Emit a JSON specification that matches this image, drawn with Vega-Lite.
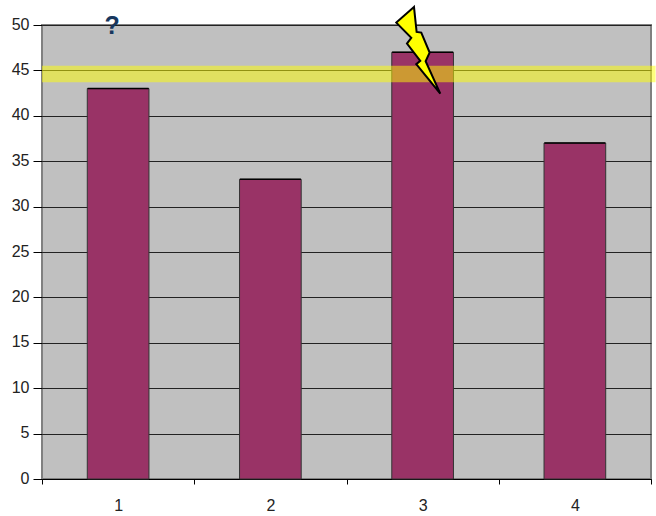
{
  "$schema": "https://vega.github.io/schema/vega-lite/v6.json",
  "width": 609,
  "height": 454,
  "autosize": "none",
  "padding": {"left": 42, "top": 25, "right": 5, "bottom": 37},
  "background": "#ffffff",
  "view": {"fill": "#c0c0c0", "stroke": "#808080", "strokeWidth": 2},
  "config": {"font": "Liberation Sans"},
  "datasets": {
    "bars": [
      {"category": "1", "value": 43},
      {"category": "2", "value": 33},
      {"category": "3", "value": 47},
      {"category": "4", "value": 37}
    ],
    "threshold": [{"start": 0, "end": 4.03, "low": 43.7, "high": 45.5}],
    "questionMark": [{"category": "1", "value": 50, "note": "?"}],
    "bolt": [{"category": "3", "value": 47}]
  },
  "layer": [
    {
      "data": {"name": "bars"},
      "layer": [
        {
          "mark": {"type": "bar", "fill": "#993366", "stroke": "#333333", "strokeWidth": 1, "width": {"band": 0.405}},
          "encoding": {
            "x": {
              "field": "category",
              "type": "ordinal",
              "scale": {"domain": ["1", "2", "3", "4"], "paddingInner": 0, "paddingOuter": 0},
              "axis": {
                "title": null,
                "labelAngle": 0,
                "labelFontSize": 16,
                "labelColor": "#222222",
                "labelPadding": 13,
                "tickBand": "extent",
                "tickColor": "#000000",
                "tickSize": 5,
                "domainColor": "#000000",
                "domainWidth": 1,
                "grid": false
              }
            },
            "y": {
              "field": "value",
              "type": "quantitative",
              "scale": {"domain": [0, 50], "nice": false},
              "axis": {
                "title": null,
                "values": [0, 5, 10, 15, 20, 25, 30, 35, 40, 45, 50],
                "labelFontSize": 16,
                "labelColor": "#222222",
                "labelPadding": 4,
                "labelOffset": -1,
                "tickColor": "#000000",
                "tickSize": 9,
                "domain": false,
                "grid": true,
                "gridColor": "#222222",
                "gridWidth": 1,
                "gridOpacity": 1
              }
            }
          }
        },
        {
          "mark": {"type": "tick", "orient": "horizontal", "color": "#000000", "size": 61, "thickness": 1.5, "opacity": 1},
          "encoding": {
            "x": {"field": "category", "type": "ordinal"},
            "y": {"field": "value", "type": "quantitative"}
          }
        }
      ]
    },
    {
      "data": {"name": "threshold"},
      "mark": {"type": "rect", "fill": "#ffff00", "opacity": 0.5},
      "encoding": {
        "x": {"field": "start", "type": "quantitative", "scale": {"domain": [0, 4], "nice": false}, "axis": null},
        "x2": {"field": "end"},
        "y": {"field": "low", "type": "quantitative", "scale": {"domain": [0, 50], "nice": false}},
        "y2": {"field": "high"}
      }
    },
    {
      "data": {"name": "questionMark"},
      "mark": {"type": "text", "fontSize": 25, "fontWeight": "bold", "color": "#17375e", "dx": -6, "dy": 1, "baseline": "middle"},
      "encoding": {
        "x": {
          "field": "category",
          "type": "ordinal",
          "scale": {"domain": ["1", "2", "3", "4"], "paddingInner": 0, "paddingOuter": 0},
          "axis": null
        },
        "y": {"field": "value", "type": "quantitative", "scale": {"domain": [0, 50], "nice": false}},
        "text": {"field": "note"}
      }
    },
    {
      "data": {"name": "bolt"},
      "mark": {
        "type": "point",
        "filled": true,
        "fill": "#ffff00",
        "fillOpacity": 1,
        "stroke": "#000000",
        "strokeWidth": 2,
        "strokeOpacity": 1,
        "opacity": 1,
        "size": 10000,
        "shape": "M-0.173,-0.907L-0.527,-0.593L-0.227,-0.287L-0.313,-0.173L-0.047,0.173L-0.127,0.24L0.353,0.827L0.06,0.18L0.14,0.007L-0.027,-0.393L-0.12,-0.407Z"
      },
      "encoding": {
        "x": {
          "field": "category",
          "type": "ordinal",
          "scale": {"domain": ["1", "2", "3", "4"], "paddingInner": 0, "paddingOuter": 0},
          "axis": null
        },
        "y": {"field": "value", "type": "quantitative", "scale": {"domain": [0, 50], "nice": false}}
      }
    }
  ],
  "resolve": {"scale": {"x": "independent"}, "axis": {"x": "independent"}}
}
